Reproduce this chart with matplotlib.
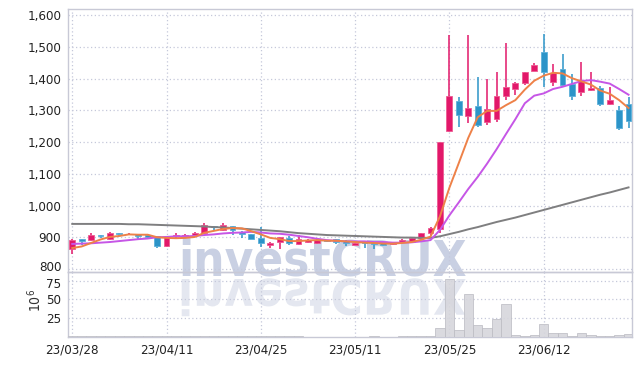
import sys
import matplotlib
matplotlib.use("Agg")
import matplotlib.pyplot as plt
from matplotlib import font_manager
from matplotlib.font_manager import FontProperties
from matplotlib.textpath import TextPath
from matplotlib.patches import PathPatch
from matplotlib.transforms import Affine2D, IdentityTransform, ScaledTranslation
from matplotlib.ticker import FuncFormatter

# ---------------- data ----------------
dates = ["23/03/28", "23/03/29", "23/03/30", "23/03/31", "23/04/03", "23/04/04", "23/04/05",
         "23/04/06", "23/04/07", "23/04/10", "23/04/11", "23/04/12", "23/04/13", "23/04/14",
         "23/04/17", "23/04/18", "23/04/19", "23/04/20", "23/04/21", "23/04/24", "23/04/25",
         "23/04/26", "23/04/27", "23/04/28", "23/05/02", "23/05/03", "23/05/04", "23/05/08",
         "23/05/09", "23/05/10", "23/05/11", "23/05/12", "23/05/15", "23/05/16", "23/05/17",
         "23/05/18", "23/05/19", "23/05/22", "23/05/23", "23/05/24", "23/05/25", "23/05/26",
         "23/05/30", "23/05/31", "23/06/01", "23/06/02", "23/06/05", "23/06/07", "23/06/08",
         "23/06/09", "23/06/12", "23/06/13", "23/06/14", "23/06/15", "23/06/16", "23/06/19",
         "23/06/20", "23/06/21", "23/06/22", "23/06/23"]

opens = [862, 893, 891, 906, 893, 912, 909, 910, 908, 904, 872, 903, 904, 908, 912, 935, 922,
         935, 918, 910, 897, 876, 886, 899, 878, 885, 883, 890, 893, 889, 877, 885, 884, 884,
         878, 886, 886, 897, 913, 925, 1236, 1329, 1282, 1313, 1264, 1271, 1345, 1367, 1385,
         1425, 1483, 1390, 1430, 1383, 1358, 1364, 1369, 1320, 1301, 1320]
highs = [893, 895, 912, 907, 918, 914, 913, 911, 910, 905, 903, 912, 910, 916, 944, 936, 946,
         936, 919, 911, 931, 885, 902, 904, 907, 893, 894, 892, 895, 890, 883, 886, 886, 885,
         884, 893, 898, 913, 931, 1200, 1537, 1342, 1537, 1406, 1397, 1421, 1513, 1389, 1422,
         1450, 1539, 1445, 1476, 1413, 1453, 1420, 1375, 1374, 1313, 1343]
lows = [848, 875, 889, 897, 890, 904, 906, 892, 894, 865, 870, 898, 900, 906, 910, 922, 920,
        907, 897, 893, 868, 865, 862, 876, 876, 883, 880, 884, 878, 872, 876, 866, 862, 872,
        876, 884, 884, 895, 907, 912, 1230, 1248, 1259, 1248, 1254, 1264, 1332, 1348, 1380,
        1423, 1374, 1376, 1374, 1332, 1345, 1362, 1313, 1318, 1238, 1243]
closes = [891, 889, 907, 903, 913, 910, 911, 903, 902, 872, 902, 908, 907, 914, 939, 931, 939,
          922, 911, 894, 881, 883, 900, 881, 894, 891, 890, 887, 885, 881, 881, 881, 880, 875,
          883, 891, 897, 912, 928, 1200, 1345, 1285, 1306, 1252, 1303, 1345, 1373, 1386, 1420,
          1443, 1421, 1418, 1380, 1345, 1393, 1371, 1320, 1332, 1243, 1267]

# volume in millions of shares
volumes = [0.4, 0.3, 0.5, 0.3, 0.4, 0.3, 0.3, 0.3, 0.3, 0.6, 0.5, 0.3, 0.3, 0.3, 0.7, 0.4, 0.5,
           0.4, 0.3, 0.3, 0.5, 0.4, 0.4, 0.3, 0.3, 0.2, 0.2, 0.2, 0.2, 0.2, 0.2, 0.2, 0.3, 0.2,
           0.2, 0.3, 0.3, 0.5, 0.8, 11.4, 77.0, 9.2, 57.5, 15.4, 11.8, 23.7, 43.4, 2.6, 1.0, 2.2,
           17.0, 5.3, 5.3, 1.3, 5.3, 2.6, 1.0, 1.0, 2.0, 4.0]

ma5 = [866, 871, 882, 893, 901, 904, 909, 908, 908, 900, 898, 897, 898, 901, 914, 920, 926,
       929, 928, 919, 909, 898, 894, 888, 888, 890, 891, 889, 889, 887, 885, 883, 882, 880,
       880, 882, 885, 892, 902, 966, 1056, 1134, 1213, 1278, 1298, 1298, 1316, 1332, 1365,
       1393, 1409, 1418, 1416, 1401, 1391, 1381, 1362, 1352, 1332, 1307]
ma10 = [879, 880, 881, 883, 885, 888, 891, 894, 896, 900, 901, 903, 903, 904, 907, 909, 912,
        914, 915, 917, 915, 912, 911, 908, 904, 900, 895, 891, 889, 887, 887, 887, 885, 885,
        883, 883, 884, 887, 891, 923, 969, 1010, 1052, 1090, 1132, 1177, 1225, 1272, 1322,
        1346, 1353, 1367, 1374, 1383, 1392, 1395, 1390, 1384, 1367, 1349]
ma60 = [942, 942, 942, 942, 942, 942, 941, 941, 940, 939, 938, 937, 936, 935, 934, 932, 931,
        929, 927, 925, 923, 921, 919, 916, 913, 911, 909, 907, 906, 905, 904, 903, 902, 901,
        900, 899, 899, 898, 898, 903, 910, 917, 925, 932, 940, 948, 955, 962, 970, 978, 986,
        994, 1002, 1010, 1018, 1026, 1034, 1041, 1049, 1057]

tick_idx = [0, 10, 20, 30, 40, 50]
price_ticks = [800, 900, 1000, 1100, 1200, 1300, 1400, 1500, 1600]
vol_ticks = [25, 50, 75]
watermark = "investCRUX"

# ---------------- style ----------------
UP = "#e2186a"
UP_EDGE = "#ee5a92"
DOWN = "#2c94c8"
DOWN_EDGE = "#5cb0da"
GRID = "#c5c8da"
SPINE = "#c8c9d6"
TXT = "#222222"

# look for a condensed / narrow family; fall back to Roboto
label_family, label_stretch = "Roboto", "normal"
for f in font_manager.fontManager.ttflist:
    if ("Narrow" in f.name or "Condensed" in f.name or
            f.stretch in ("condensed", "semi-condensed")) and "Mono" not in f.name:
        label_family, label_stretch = f.name, f.stretch
        break
print("font:", label_family, label_stretch, file=sys.stderr)
plt.rcParams["font.family"] = [label_family, "DejaVu Sans"]
plt.rcParams["font.stretch"] = label_stretch

W, H = 642, 366
fig = plt.figure(figsize=(W / 100, H / 100), dpi=100)
fig.patch.set_facecolor("white")

x0, x1 = 68.3, 632.3
y_top, y_mid, y_bot = 9.3, 271.7, 336.7
ax = fig.add_axes([x0 / W, 1 - y_mid / H, (x1 - x0) / W, (y_mid - y_top) / H])
axv = fig.add_axes([x0 / W, 1 - y_bot / H, (x1 - x0) / W, (y_bot - y_mid) / H], sharex=ax)
for a in (ax, axv):
    a.set_facecolor("none")

# ---------------- watermark ----------------
wm_fp = FontProperties(family=[label_family, "DejaVu Sans"], weight="bold", stretch=label_stretch)
probe = TextPath((0, 0), watermark, size=100, prop=wm_fp)
ext = probe.get_extents()
target_w = 284.0
wm_px = 100 * target_w / ext.width
wm_pt = wm_px * 72 / 100
wm_x, wm_base = 178, 276
fig.text(wm_x / W, 1 - wm_base / H, watermark, fontproperties=wm_fp, fontsize=wm_pt,
         color="#c9d0e3", ha="left", va="baseline", zorder=-5)
tp = TextPath((0, 0), watermark, size=wm_px, prop=wm_fp)
refl = Affine2D().scale(1, -1).translate(wm_x, H - (wm_base + 3))
patch = PathPatch(tp, transform=refl + IdentityTransform(), facecolor="#e4e7f0",
                  edgecolor="none", zorder=-5)
fig.add_artist(patch)

# ---------------- candles ----------------
n = len(closes)
xs = list(range(n))
body_w = 0.62
for i in xs:
    o, h, l, c = opens[i], highs[i], lows[i], closes[i]
    up = c >= o
    col = UP if up else DOWN
    ecol = UP_EDGE if up else DOWN_EDGE
    ax.vlines(i, l, h, color=col, linewidth=1.1, zorder=3)
    bottom = min(o, c)
    height = max(abs(c - o), 2.5)
    ax.bar(i, height, bottom=bottom, width=body_w, color=col, edgecolor=ecol,
           linewidth=0.6, zorder=4)

ax.plot(xs, ma60, color="#7f7f80", linewidth=1.4, zorder=5)
ax.plot(xs, ma10, color="#c656e6", linewidth=1.4, zorder=5)
ax.plot(xs, ma5, color="#ee8148", linewidth=1.4, zorder=5)

ax.set_xlim(-0.42, 59.4)
ax.set_ylim(791.5, 1618)
ax.set_yticks(price_ticks)
ax.yaxis.set_major_formatter(FuncFormatter(lambda v, p: f"{v:,.0f}"))

# ---------------- volume ----------------
axv.bar(xs, volumes, width=1.0, color="#d6d6dc", edgecolor="#bdbdc4", linewidth=0.6,
        zorder=3, alpha=0.9)
axv.set_ylim(0, 86.8)
axv.set_yticks(vol_ticks)
axv.set_xticks(tick_idx)
axv.set_xticklabels([dates[i] for i in tick_idx])
axv.text(-0.059, 0.55, r"$10^6$", transform=axv.transAxes, rotation=90,
         ha="center", va="center", fontsize=10, color="#333333",
         family=["DejaVu Sans"])

for a in (ax, axv):
    a.grid(True, linestyle=(0, (1, 2)), color=GRID, linewidth=0.9, zorder=0)
    a.set_axisbelow(True)
    a.tick_params(length=0, labelsize=9.5, colors=TXT, pad=5)
    for s in a.spines.values():
        s.set_color(SPINE)
        s.set_linewidth(1.0)
ax.tick_params(labelbottom=False)
for lab in ax.get_yticklabels() + axv.get_yticklabels() + axv.get_xticklabels():
    lab.set_fontweight("medium")

# nudge the two tick labels that meet at the panel border apart a little
t800 = ax.yaxis.get_major_ticks()[0].label1
t800.set_transform(t800.get_transform() + ScaledTranslation(0, 2.5 / 72, fig.dpi_scale_trans))
t75 = axv.yaxis.get_major_ticks()[-1].label1
t75.set_transform(t75.get_transform() + ScaledTranslation(0, -1.5 / 72, fig.dpi_scale_trans))

fig.savefig("out.png", dpi=100, facecolor="white")
